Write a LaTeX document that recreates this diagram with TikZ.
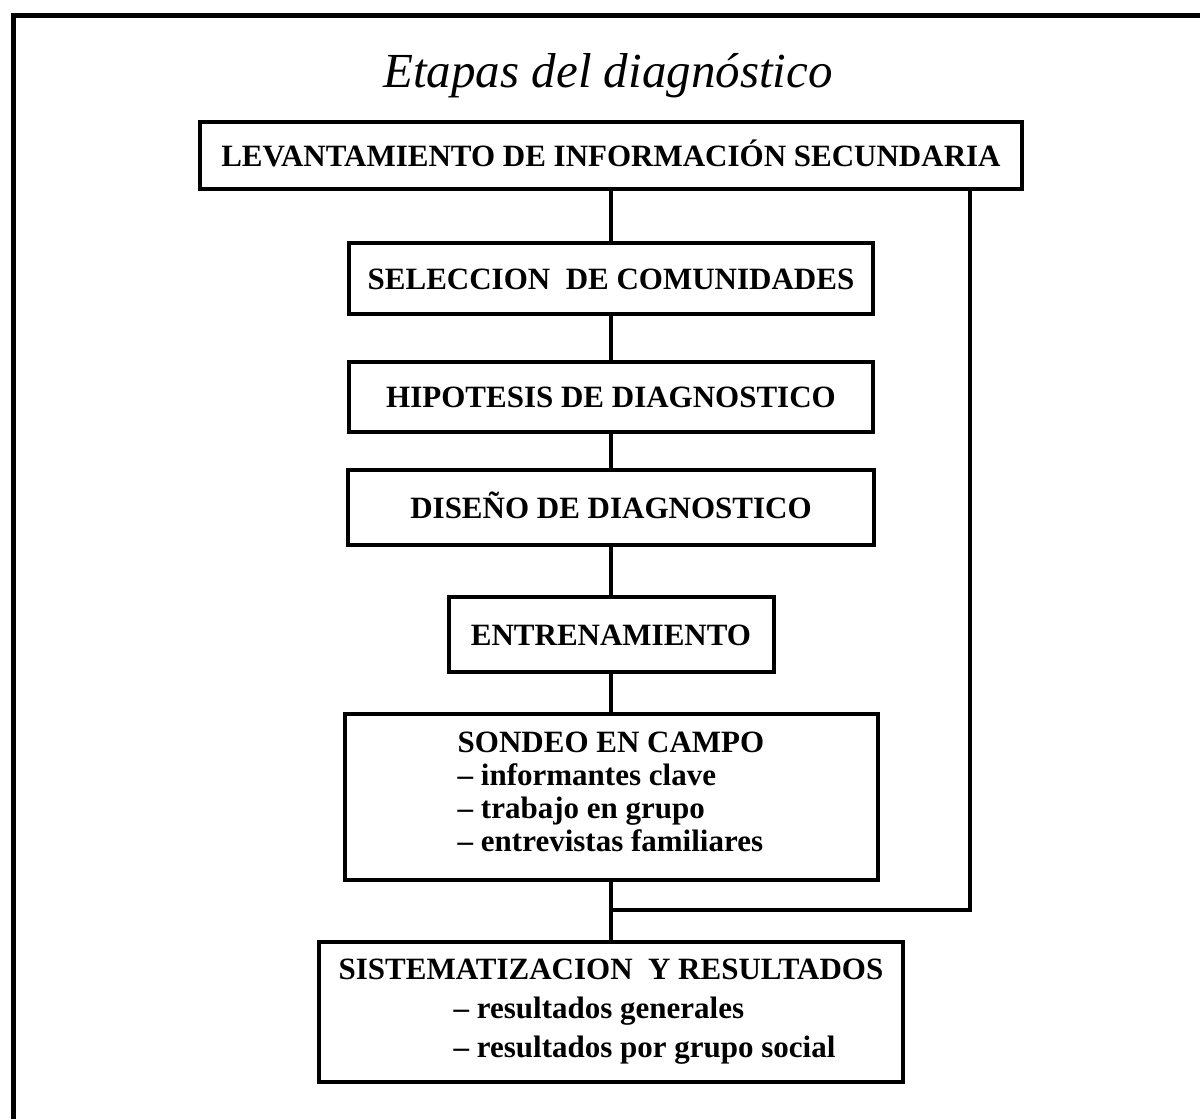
\documentclass[tikz,border=0pt]{standalone}
\usepackage{fontspec}
\setmainfont{Liberation Serif}
\begin{document}
\begin{tikzpicture}[x=1pt,y=-1pt,
  box/.style={draw, line width=4pt, font=\bfseries\fontsize{31}{33}\selectfont, inner sep=0pt, text height=21pt, text depth=0pt},
  mbox/.style={draw, line width=4pt, inner sep=0pt, align=left},
  link/.style={line width=3.5pt},
  frame/.style={line width=5pt, line join=miter}]
\useasboundingbox (0,0) rectangle (1200,1119);
\draw[frame] (13,1119) -- (13,15) -- (1200,15);
\node[anchor=base, font=\itshape\fontsize{49}{55}\selectfont] (title) at (608,87) {Etapas del diagnóstico};
\node[box, minimum width=822pt, minimum height=67pt] (b1) at (611,155.5) {LEVANTAMIENTO DE INFORMACIÓN SECUNDARIA};
\node[box, minimum width=524pt, minimum height=71pt] (b2) at (611,278.5) {SELECCION\ \ DE COMUNIDADES};
\node[box, minimum width=524pt, minimum height=70pt] (b3) at (611,397) {HIPOTESIS DE DIAGNOSTICO};
\node[box, minimum width=526pt, minimum height=75pt] (b4) at (611,507.5) {DISEÑO DE DIAGNOSTICO};
\node[box, minimum width=325pt, minimum height=75pt] (b5) at (611,634.5) {ENTRENAMIENTO};
\node[mbox, minimum width=533pt, minimum height=166pt, font=\bfseries\fontsize{31}{33}\selectfont] (b6) at (611,797)
  {SONDEO EN CAMPO\\– informantes clave\\– trabajo en grupo\\– entrevistas familiares\\[-22pt]\mbox{}};
\node[mbox, minimum width=584pt, minimum height=140pt, font=\bfseries\fontsize{31}{39}\selectfont] (b7) at (611,1012)
  {SISTEMATIZACION\ \ Y RESULTADOS\\\hspace*{115pt}– resultados generales\\\hspace*{115pt}– resultados por grupo social};
\coordinate (join) at (611,910);
\coordinate (rside) at (970,0);
\draw[link] (b1.south) -- (b2.north);
\draw[link] (b2.south) -- (b3.north);
\draw[link] (b3.south) -- (b4.north);
\draw[link] (b4.south) -- (b5.north);
\draw[link] (b5.south) -- (b6.north);
\draw[link] (b6.south) -- (b7.north);
\draw[link] (rside |- b1.south) |- (join);
\end{tikzpicture}
\end{document}
